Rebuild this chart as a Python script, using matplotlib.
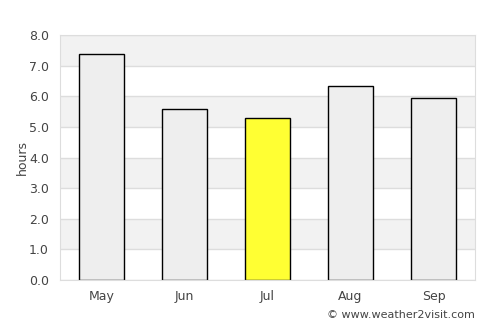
import matplotlib
matplotlib.use("Agg")
import matplotlib.pyplot as plt

months = ["May", "Jun", "Jul", "Aug", "Sep"]
hours = [7.37, 5.6, 5.28, 6.33, 5.96]
highlight = "Jul"
yticks = [0, 1, 2, 3, 4, 5, 6, 7, 8]

fig = plt.figure(figsize=(5, 3.25), dpi=100)
ax = fig.add_axes([0.12, 0.1385, 0.83, 0.7535])

for lo in range(1, 8, 2):
    ax.axhspan(lo, lo + 1, color="#f2f2f2", zorder=0, lw=0)
for y in yticks:
    ax.axhline(y, color="#dddddd", lw=1, zorder=1)

colors = ["#ffff33" if m == highlight else "#eeeeee" for m in months]
ax.bar(range(len(months)), hours, width=0.54, color=colors, edgecolor="black", linewidth=1, zorder=2)

ax.set_xlim(-0.5, len(months) - 0.5)
ax.set_ylim(0, 8)
ax.set_yticks(yticks)
ax.set_yticklabels([f"{v:.1f}" for v in yticks])
ax.set_xticks(range(len(months)))
ax.set_xticklabels(months)
ax.tick_params(axis="both", length=0, labelsize=9, colors="#444444")
ax.tick_params(axis="x", pad=7)
ax.tick_params(axis="y", pad=8)
ax.set_ylabel("hours", fontsize=9, color="#444444", labelpad=0)
for s in ax.spines.values():
    s.set_color("#dddddd")

fig.text(0.95, 0.015, "© www.weather2visit.com", ha="right", va="bottom", fontsize=8, color="#444444")
fig.savefig("out.png", dpi=100)
